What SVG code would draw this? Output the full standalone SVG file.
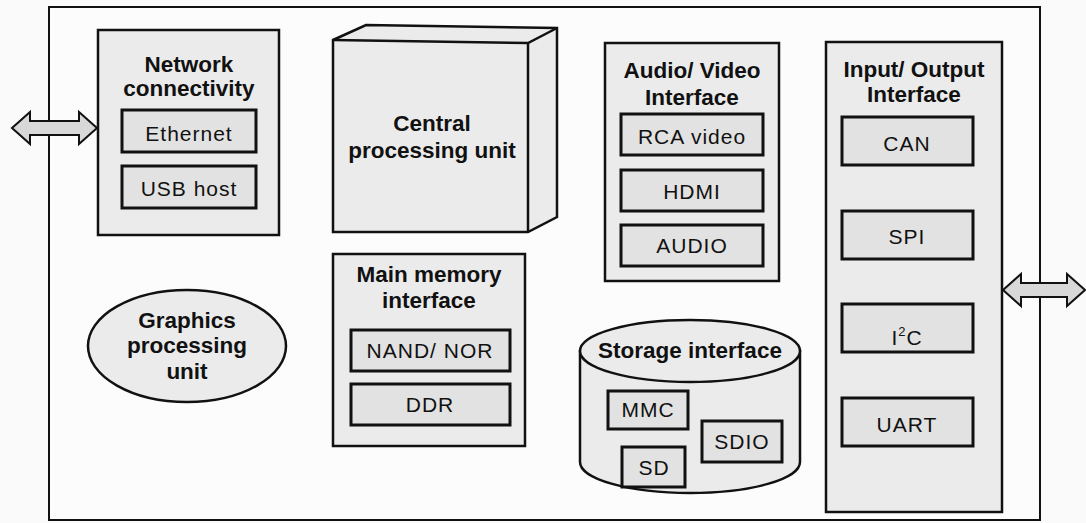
<svg xmlns="http://www.w3.org/2000/svg" width="1086" height="523" viewBox="0 0 1086 523">
<style>
.box{fill:#ebebeb;stroke:#111;stroke-width:2.5}
.inner{fill:#e2e2e2;stroke:#111;stroke-width:3}
.t{font-family:"Liberation Sans",Arial,sans-serif;font-size:22.5px;font-weight:bold;fill:#111;text-anchor:middle}
.l{font-family:"Liberation Sans",Arial,sans-serif;font-size:21px;letter-spacing:1px;fill:#111;text-anchor:middle}
.arr{fill:#d8d8d8;stroke:#111;stroke-width:2}
</style>
<rect x="0" y="0" width="1086" height="523" fill="#fafafa"/>
<rect id="frame" x="49" y="7" width="991" height="513" fill="#fcfcfc" stroke="#111" stroke-width="2"/>
<g id="connectors">
<polygon class="arr" points="12,128 30,112 30,121 79,121 79,112 97,128 79,144 79,135 30,135 30,144"/>
<polygon class="arr" points="1003,290 1021,274 1021,283 1067,283 1067,274 1085,290 1067,306 1067,297 1021,297 1021,306"/>
</g>
<g id="network">
<rect class="box" x="98" y="30" width="181" height="205"/>
<text class="t" x="189" y="72">Network</text>
<text class="t" x="189" y="96">connectivity</text>
<rect class="inner" x="122" y="110" width="134" height="42"/>
<text class="l" x="189" y="141">Ethernet</text>
<rect class="inner" x="122" y="166" width="134" height="42"/>
<text class="l" x="189" y="196">USB host</text>
</g>
<g id="cpu">
<polygon class="box" points="333,40 366,25 557,28 557,217 528,232 333,232"/>
<polyline points="333,40 528,43 557,28" fill="none" stroke="#111" stroke-width="2.5"/>
<line x1="528" y1="43" x2="528" y2="232" stroke="#111" stroke-width="2.5"/>
<text class="t" x="432" y="131">Central</text>
<text class="t" x="432" y="158">processing unit</text>
</g>
<g id="av">
<rect class="box" x="605" y="43" width="174" height="238"/>
<text class="t" x="692" y="78">Audio/ Video</text>
<text class="t" x="692" y="105">Interface</text>
<rect class="inner" x="621" y="114" width="142" height="41"/>
<text class="l" x="692" y="144">RCA video</text>
<rect class="inner" x="621" y="170" width="142" height="41"/>
<text class="l" x="692" y="199">HDMI</text>
<rect class="inner" x="621" y="225" width="142" height="41"/>
<text class="l" x="692" y="253">AUDIO</text>
</g>
<g id="io">
<rect class="box" x="826" y="42" width="176" height="470"/>
<text class="t" x="914" y="77">Input/ Output</text>
<text class="t" x="914" y="102">Interface</text>
<rect class="inner" x="842" y="117" width="131" height="48"/>
<text class="l" x="907" y="151">CAN</text>
<rect class="inner" x="842" y="211" width="131" height="48"/>
<text class="l" x="907" y="244">SPI</text>
<rect class="inner" x="842" y="304" width="131" height="48"/>
<text class="l" x="907" y="345">I<tspan font-size="13" dy="-9">2</tspan><tspan dy="9">C</tspan></text>
<rect class="inner" x="842" y="398" width="131" height="48"/>
<text class="l" x="907" y="432">UART</text>
</g>
<g id="gpu">
<ellipse class="box" cx="187" cy="346" rx="99" ry="56"/>
<text class="t" x="187" y="328">Graphics</text>
<text class="t" x="187" y="353">processing</text>
<text class="t" x="187" y="379">unit</text>
</g>
<g id="memory">
<rect class="box" x="333" y="254" width="192" height="192"/>
<text class="t" x="429" y="282">Main memory</text>
<text class="t" x="429" y="308">interface</text>
<rect class="inner" x="351" y="330" width="159" height="41"/>
<text class="l" x="430" y="358">NAND/ NOR</text>
<rect class="inner" x="351" y="384" width="159" height="41"/>
<text class="l" x="430" y="412">DDR</text>
</g>
<g id="storage">
<path class="box" d="M580,351 L580,462 A110,31 0 0 0 800,462 L800,351 Z"/>
<ellipse class="box" cx="690" cy="351" rx="110" ry="31"/>
<text class="t" x="690" y="358">Storage interface</text>
<rect class="inner" x="608" y="391" width="80" height="38"/>
<text class="l" x="648" y="417">MMC</text>
<rect class="inner" x="702" y="421" width="80" height="41"/>
<text class="l" x="742" y="449">SDIO</text>
<rect class="inner" x="622" y="447" width="63" height="40"/>
<text class="l" x="654" y="475">SD</text>
</g>
</svg>
